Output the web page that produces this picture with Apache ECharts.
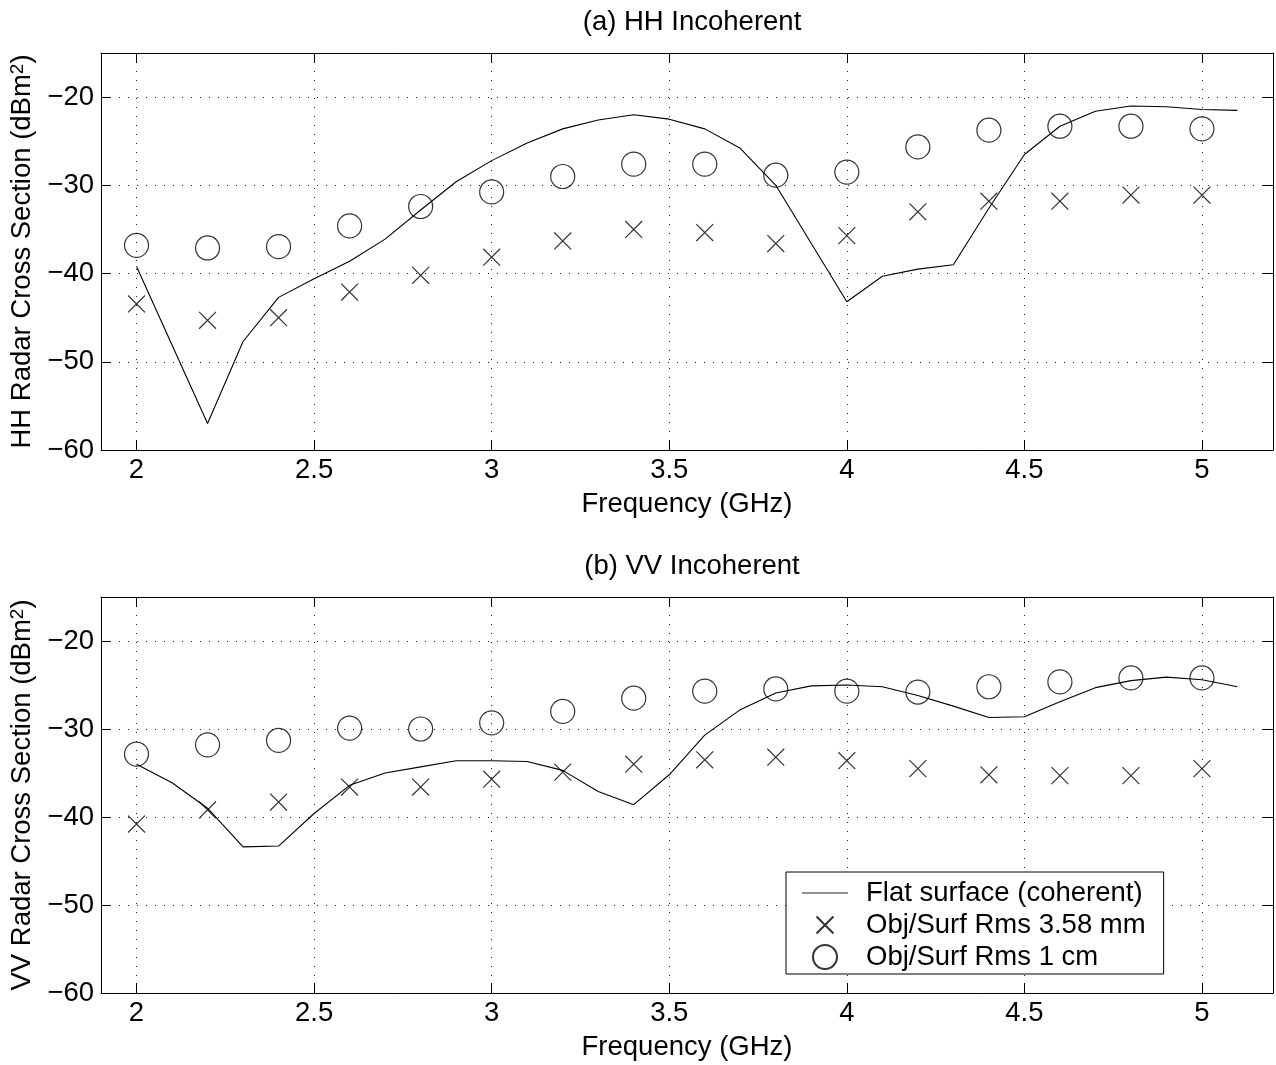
<!DOCTYPE html>
<html><head><meta charset="utf-8">
<script src="https://cdn.jsdelivr.net/npm/echarts@6/dist/echarts.min.js"></script>
<style>html,body{margin:0;padding:0;background:#fff}#c{width:1276px;height:1065px}</style>
</head><body><div id="c"></div>
<script>
// ---- data ----
const freqLine = [2.0,2.1,2.2,2.3,2.4,2.5,2.6,2.7,2.8,2.9,3.0,3.1,3.2,3.3,3.4,3.5,3.6,3.7,3.8,3.9,4.0,4.1,4.2,4.3,4.4,4.5,4.6,4.7,4.8,4.9,5.0,5.1];
const freqMarks = [2.0,2.2,2.4,2.6,2.8,3.0,3.2,3.4,3.6,3.8,4.0,4.2,4.4,4.6,4.8,5.0];

const hhFlat = [-39.2,-48.1,-57.0,-47.7,-42.7,-40.6,-38.6,-36.1,-32.8,-29.6,-27.2,-25.2,-23.6,-22.6,-22.0,-22.5,-23.6,-25.8,-30.0,-36.6,-43.2,-40.3,-39.5,-39.0,-32.6,-26.5,-23.3,-21.6,-21.0,-21.1,-21.4,-21.5];
const hhRms358 = [-43.45,-45.3,-45.0,-42.1,-40.2,-38.15,-36.3,-35.0,-35.35,-36.6,-35.7,-33.0,-31.8,-31.8,-31.1,-31.1];
const hhRms1cm = [-36.8,-37.1,-36.95,-34.6,-32.4,-30.75,-29.0,-27.6,-27.6,-28.85,-28.5,-25.65,-23.75,-23.3,-23.3,-23.6];

const vvFlat = [-34.0,-36.1,-39.0,-43.4,-43.3,-39.6,-36.4,-35.0,-34.3,-33.6,-33.6,-33.7,-34.7,-37.1,-38.6,-35.2,-30.7,-27.8,-25.9,-25.1,-25.0,-25.2,-26.2,-27.4,-28.7,-28.6,-26.9,-25.3,-24.5,-24.1,-24.4,-25.2];
const vvRms358 = [-40.8,-39.2,-38.3,-36.6,-36.6,-35.7,-34.9,-34.0,-33.5,-33.2,-33.6,-34.5,-35.2,-35.3,-35.3,-34.5];
const vvRms1cm = [-32.85,-31.8,-31.3,-29.9,-30.0,-29.3,-28.0,-26.5,-25.7,-25.45,-25.7,-25.8,-25.2,-24.65,-24.2,-24.2];

const xTicks = [2, 2.5, 3, 3.5, 4, 4.5, 5];
const yTicks = [-60, -50, -40, -30, -20];

const names = ['Flat surface (coherent)', 'Obj/Surf Rms 3.58 mm', 'Obj/Surf Rms 1 cm'];
const titles = ['(a) HH Incoherent', '(b) VV Incoherent'];
const yNames = ['HH Radar Cross Section (dBm{sup|2})', 'VV Radar Cross Section (dBm{sup|2})'];
const xName = 'Frequency (GHz)';

// ---- styling ----
const FONT = '"Liberation Sans", Arial, Helvetica, sans-serif';
const FS = 27.5;
const X_PATH = 'path://M-2.1,-2.1M0,0L10,10M10,0L0,10M12.1,12.1';
const LINE_ICON = 'path://M0,-11.45M0,0L46,0L46,1.1L0,1.1ZM0,12.55';
const fmt = v => String(v).replace('-', '\u2212');

const gridTops = [53, 597];
const gridHeights = [397, 396];

const grids = [], xAxes = [], yAxes = [], series = [], titleList = [];
const flats = [hhFlat, vvFlat], r358 = [hhRms358, vvRms358], r1 = [hhRms1cm, vvRms1cm];

for (let g = 0; g < 2; g++) {
  grids.push({ left: 101, width: 1172, top: gridTops[g], height: gridHeights[g], containLabel: false });
  titleList.push({
    text: titles[g], left: 687, top: gridTops[g] - 50, textAlign: 'center',
    textStyle: { fontFamily: FONT, fontSize: FS, fontWeight: 'normal', color: '#000' }
  });
  const baseX = {
    type: 'value', gridIndex: g, min: 1.9, max: 5.2,
    axisLine: { show: true, onZero: false, lineStyle: { color: '#000', width: 1 } },
    axisTick: { show: true, inside: true, length: 10, customValues: xTicks, lineStyle: { color: '#000' } },
    axisLabel: { show: true, customValues: xTicks, margin: 6, formatter: fmt,
      fontFamily: FONT, fontSize: FS, color: '#000' },
    splitLine: { show: true, lineStyle: { color: '#222', width: 1, type: [1, 8] } }
  };
  xAxes.push(Object.assign({}, baseX, {
    position: 'bottom', name: xName, nameLocation: 'middle', nameGap: 40,
    nameTextStyle: { fontFamily: FONT, fontSize: FS, color: '#000' }
  }));
  xAxes.push(Object.assign({}, baseX, {
    position: 'top', axisLabel: { show: false, customValues: xTicks }, splitLine: { show: false }
  }));
  const baseY = {
    type: 'value', gridIndex: g, min: -60, max: -15,
    axisLine: { show: true, onZero: false, lineStyle: { color: '#000', width: 1 } },
    axisTick: { show: true, inside: true, length: 10, customValues: yTicks, lineStyle: { color: '#000' } },
    axisLabel: { show: true, customValues: yTicks, margin: 7, formatter: fmt,
      fontFamily: FONT, fontSize: FS, color: '#000' },
    splitLine: { show: true, lineStyle: { color: '#222', width: 1, type: [1, 8] } }
  };
  yAxes.push(Object.assign({}, baseY, {
    position: 'left', name: yNames[g], nameLocation: 'middle', nameGap: 53,
    nameTextStyle: { fontFamily: FONT, fontSize: FS, color: '#000',
      rich: { sup: { fontFamily: FONT, fontSize: 19, color: '#000', verticalAlign: 'top', lineHeight: 19 } } }
  }));
  yAxes.push(Object.assign({}, baseY, {
    position: 'right', axisLabel: { show: false, customValues: yTicks }, splitLine: { show: false }
  }));

  series.push({
    name: names[0], type: 'line', xAxisIndex: 2 * g, yAxisIndex: 2 * g,
    data: freqLine.map((f, i) => [f, flats[g][i]]),
    symbol: 'none', lineStyle: { color: '#000', width: 1.1 }, itemStyle: { color: '#000' },
    animation: false, z: 2
  });
  series.push({
    name: names[1], type: 'scatter', xAxisIndex: 2 * g, yAxisIndex: 2 * g,
    data: freqMarks.map((f, i) => [f, r358[g][i]]),
    symbol: X_PATH, symbolSize: 24,
    itemStyle: { color: 'transparent', borderColor: '#000', borderWidth: 1.2 },
    animation: false, z: 3
  });
  series.push({
    name: names[2], type: 'scatter', xAxisIndex: 2 * g, yAxisIndex: 2 * g,
    data: freqMarks.map((f, i) => [f, r1[g][i]]),
    symbol: 'circle', symbolSize: 24,
    itemStyle: { color: 'transparent', borderColor: '#000', borderWidth: 1.2 },
    animation: false, z: 3
  });
}

const option = {
  backgroundColor: '#fff',
  animation: false,
  title: titleList,
  grid: grids,
  xAxis: xAxes,
  yAxis: yAxes,
  legend: {
    data: [
      { name: names[0], icon: LINE_ICON, itemStyle: { color: '#222', borderWidth: 0 } },
      { name: names[1] },
      { name: names[2] }
    ],
    orient: 'vertical', left: 786, top: 872,
    itemWidth: 46, itemHeight: 24, itemGap: 4,
    padding: [7, 18, 3, 16],
    borderColor: '#000', borderWidth: 1, backgroundColor: '#fff',
    selectedMode: false,
    textStyle: { fontFamily: FONT, fontSize: FS, color: '#000', padding: [0, 0, 0, 13] }
  },
  series: series
};

const chart = echarts.init(document.getElementById('c'), null, { renderer: 'canvas' });
chart.setOption(option);
</script>
</body></html>
